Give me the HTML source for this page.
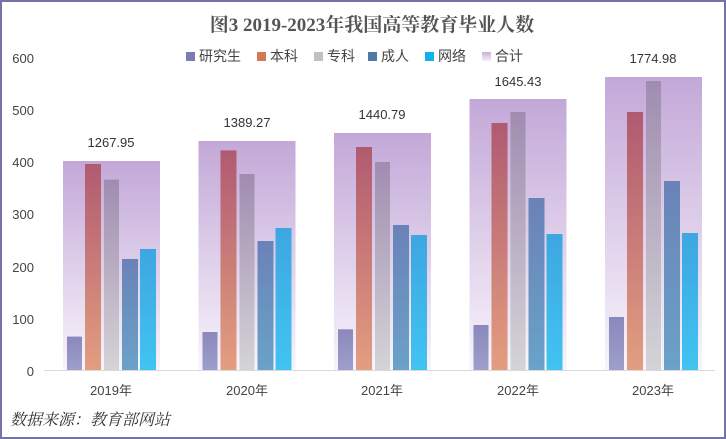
<!DOCTYPE html>
<html><head><meta charset="utf-8"><style>
html,body{margin:0;padding:0;background:#fff}
svg{display:block;font-family:"Liberation Sans","Noto Sans CJK SC",sans-serif}
</style></head><body>
<svg width="726" height="439" viewBox="0 0 726 439" xmlns="http://www.w3.org/2000/svg">
<defs>
<linearGradient id="bg" x1="0" y1="0" x2="0" y2="1"><stop offset="0" stop-color="#c3a8d8"/><stop offset="1" stop-color="#f8f4fb"/></linearGradient>
<linearGradient id="g1" x1="0" y1="0" x2="0" y2="1"><stop offset="0" stop-color="#8b88bc"/><stop offset="1" stop-color="#9d9fca"/></linearGradient>
<linearGradient id="g2" x1="0" y1="0" x2="0" y2="1"><stop offset="0" stop-color="#b05a70"/><stop offset="1" stop-color="#e39e80"/></linearGradient>
<linearGradient id="g3" x1="0" y1="0" x2="0" y2="1"><stop offset="0" stop-color="#a08cb0"/><stop offset="1" stop-color="#d4d4d6"/></linearGradient>
<linearGradient id="g4" x1="0" y1="0" x2="0" y2="1"><stop offset="0" stop-color="#6a82b8"/><stop offset="1" stop-color="#6aa2c8"/></linearGradient>
<linearGradient id="g5" x1="0" y1="0" x2="0" y2="1"><stop offset="0" stop-color="#3ea6e0"/><stop offset="1" stop-color="#40c4f2"/></linearGradient>
<linearGradient id="lg" x1="0" y1="0" x2="0" y2="1"><stop offset="0" stop-color="#c8b0dc"/><stop offset="1" stop-color="#f4eef8"/></linearGradient>
</defs>
<rect x="1" y="1" width="724" height="437" fill="#fff" stroke="#7474a4" stroke-width="2"/>
<text x="372" y="31" text-anchor="middle" font-family="Liberation Serif,'Noto Serif CJK SC',serif" font-weight="bold" font-size="19" fill="#555">图3 2019-2023年我国高等教育毕业人数</text>
<g font-size="14" fill="#444">
<rect x="186" y="52" width="9" height="9" fill="#7b7bb5"/><text x="199" y="61">研究生</text>
<rect x="257" y="52" width="9" height="9" fill="#d4785a"/><text x="270" y="61">本科</text>
<rect x="314" y="52" width="9" height="9" fill="#c0c0c0"/><text x="327" y="61">专科</text>
<rect x="368" y="52" width="9" height="9" fill="#4f7aa8"/><text x="381" y="61">成人</text>
<rect x="425" y="52" width="9" height="9" fill="#10b0ec"/><text x="438" y="61">网络</text>
<rect x="482" y="52" width="9" height="9" fill="url(#lg)"/><text x="495" y="61">合计</text>
</g>
<g font-size="13" fill="#444" text-anchor="end">
<text x="34" y="63">600</text><text x="34" y="115">500</text><text x="34" y="167">400</text>
<text x="34" y="219">300</text><text x="34" y="272">200</text><text x="34" y="324">100</text><text x="34" y="376">0</text>
</g>
<line x1="44" y1="370.5" x2="715" y2="370.5" stroke="#d9d9d9"/>
<!-- 2019 -->
<rect x="63" y="161" width="97" height="209" fill="url(#bg)"/>
<rect x="67" y="336.6" width="15" height="33.4" fill="url(#g1)"/>
<rect x="85" y="164" width="16" height="206" fill="url(#g2)"/>
<rect x="104" y="179.6" width="15" height="190.4" fill="url(#g3)"/>
<rect x="122" y="259" width="16" height="111" fill="url(#g4)"/>
<rect x="140" y="249" width="16" height="121" fill="url(#g5)"/>
<!-- 2020 -->
<rect x="198.5" y="141" width="97" height="229" fill="url(#bg)"/>
<rect x="202.5" y="332" width="15" height="38" fill="url(#g1)"/>
<rect x="220.5" y="150.4" width="16" height="219.6" fill="url(#g2)"/>
<rect x="239.5" y="174" width="15" height="196" fill="url(#g3)"/>
<rect x="257.5" y="241" width="16" height="129" fill="url(#g4)"/>
<rect x="275.5" y="228" width="16" height="142" fill="url(#g5)"/>
<!-- 2021 -->
<rect x="334" y="133" width="97" height="237" fill="url(#bg)"/>
<rect x="338" y="329.3" width="15" height="40.7" fill="url(#g1)"/>
<rect x="356" y="147" width="16" height="223" fill="url(#g2)"/>
<rect x="375" y="162" width="15" height="208" fill="url(#g3)"/>
<rect x="393" y="225" width="16" height="145" fill="url(#g4)"/>
<rect x="411" y="235" width="16" height="135" fill="url(#g5)"/>
<!-- 2022 -->
<rect x="469.5" y="99" width="97" height="271" fill="url(#bg)"/>
<rect x="473.5" y="325" width="15" height="45" fill="url(#g1)"/>
<rect x="491.5" y="123" width="16" height="247" fill="url(#g2)"/>
<rect x="510.5" y="112" width="15" height="258" fill="url(#g3)"/>
<rect x="528.5" y="198" width="16" height="172" fill="url(#g4)"/>
<rect x="546.5" y="234" width="16" height="136" fill="url(#g5)"/>
<!-- 2023 -->
<rect x="605" y="77" width="97" height="293" fill="url(#bg)"/>
<rect x="609" y="317" width="15" height="53" fill="url(#g1)"/>
<rect x="627" y="112" width="16" height="258" fill="url(#g2)"/>
<rect x="646" y="81" width="15" height="289" fill="url(#g3)"/>
<rect x="664" y="181" width="16" height="189" fill="url(#g4)"/>
<rect x="682" y="233" width="16" height="137" fill="url(#g5)"/>
<g font-size="13" fill="#333" text-anchor="middle">
<text x="111" y="147">1267.95</text>
<text x="247" y="127">1389.27</text>
<text x="382" y="119">1440.79</text>
<text x="518" y="86">1645.43</text>
<text x="653" y="63">1774.98</text>
</g>
<g font-size="13" fill="#444" text-anchor="middle">
<text x="111" y="395">2019年</text><text x="247" y="395">2020年</text><text x="382" y="395">2021年</text>
<text x="518" y="395">2022年</text><text x="653" y="395">2023年</text>
</g>
<text x="10" y="425" font-size="16" font-style="italic" fill="#333" font-family="'Noto Serif CJK SC',serif">数据来源：教育部网站</text>
</svg>
</body></html>
